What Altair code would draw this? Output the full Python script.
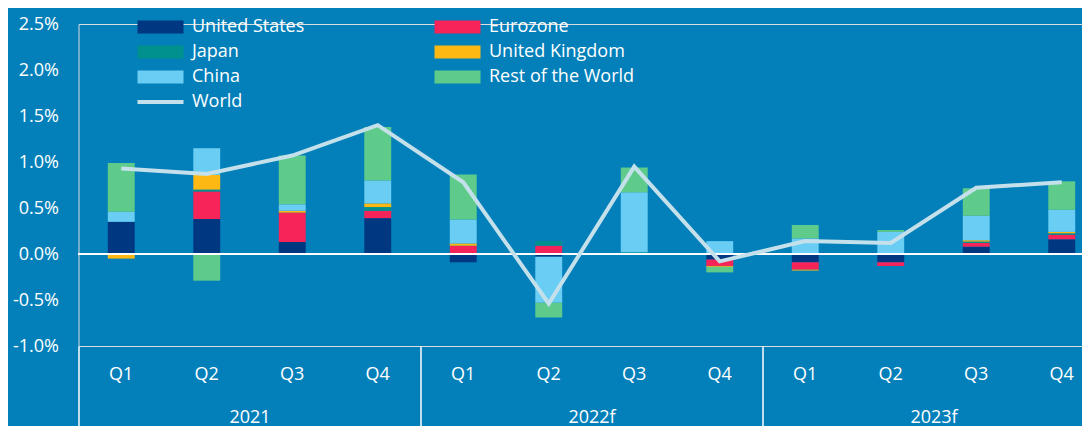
import altair as alt
import pandas as pd

# ---- data ----
periods = ["2021 Q1", "2021 Q2", "2021 Q3", "2021 Q4",
           "2022f Q1", "2022f Q2", "2022f Q3", "2022f Q4",
           "2023f Q1", "2023f Q2", "2023f Q3", "2023f Q4"]
years = ["2021", "2022f", "2023f"]
series = ["United States", "Eurozone", "Japan", "United Kingdom", "China", "Rest of the World"]
# legend is filled column by column: left column first, then right column
legend_order = ["United States", "Japan", "China", "World", "Eurozone", "United Kingdom", "Rest of the World"]
legend_colors = ["#003781", "#00908D", "#6ACDF3", "#C3E0EB", "#F62459", "#FDB813", "#5FCB8A"]

us = [0.35, 0.38, 0.13, 0.39, -0.09, -0.03, 0.0, -0.06, -0.09, -0.09, 0.08, 0.16]
ez = [0.0, 0.30, 0.32, 0.08, 0.09, 0.09, 0.0, -0.07, -0.08, -0.04, 0.04, 0.05]
jp = [0.0, 0.02, -0.01, 0.04, 0.0, 0.05, 0.02, 0.0, 0.0, 0.0, 0.015, 0.015]
uk = [-0.05, 0.16, 0.02, 0.04, 0.025, 0.0, 0.0, -0.01, -0.01, 0.0, 0.015, 0.015]
cn = [0.11, 0.29, 0.07, 0.25, 0.26, -0.50, 0.65, 0.14, 0.17, 0.24, 0.265, 0.24]
rw = [0.53, -0.29, 0.53, 0.58, 0.49, -0.16, 0.27, -0.06, 0.145, 0.02, 0.30, 0.31]
world = [0.93, 0.87, 1.07, 1.40, 0.78, -0.54, 0.95, -0.08, 0.14, 0.12, 0.72, 0.78]

WORLD_COLOR = "#C3E0EB"
y_ticks = [-1.0, -0.5, 0.0, 0.5, 1.0, 1.5, 2.0, 2.5]

BG = "#037FBA"
FONT = "Open Sans"

# ---- tables ----
rows = []
for i, p in enumerate(periods):
    for k, (name, vals) in enumerate(zip(series, [us, ez, jp, uk, cn, rw])):
        if vals[i] != 0:
            rows.append({"period": p, "series": name, "order": k, "value": vals[i]})
bars_df = pd.DataFrame(rows)
world_df = pd.DataFrame({"period": periods,
                         "year": [p.split(" ")[0] for p in periods],
                         "value": world})

y_enc = alt.Y("value:Q",
              scale=alt.Scale(domain=[-1.0, 2.5], nice=False, zero=False),
              axis=alt.Axis(values=y_ticks, title=None, domain=False, ticks=False, grid=False,
                            labelExpr="(datum.value < 0 ? '-' : '') + format(abs(datum.value), '.1f') + '%'",
                            labelPadding=20, labelFontSize=18, labelColor="white", labelFont=FONT))

PLOT_RANGE = [0, 1026]
x_scale = alt.Scale(domain=periods, paddingInner=0, paddingOuter=0, range=PLOT_RANGE)
x_bars = alt.X("period:N", scale=x_scale,
               axis=alt.Axis(orient="bottom", title=None, domain=False, ticks=False, tickSize=0,
                             labelExpr="split(datum.label, ' ')[1]", labelAngle=0,
                             labelPadding=19, labelFontSize=18, labelColor="white", labelFont=FONT))

sym_path = "M-3.54,-1L3.54,-1L3.54,1L-3.54,1Z"
line_path = "M-3.54,-0.3L3.54,-0.3L3.54,0.3L-3.54,0.3Z"

legend = alt.Legend(
    orient="none", legendX=56.5, legendY=-6, columns=2, title=None,
    columnPadding=127, rowPadding=7, padding=0,
    symbolSize=169,
    symbolType=alt.ExprRef(f"datum.value === 'World' ? '{line_path}' : '{sym_path}'"),
    symbolOffset=16.5, labelOffset=22.5,
    symbolStrokeWidth=0, symbolOpacity=1,
    labelFontSize=18, labelColor="white", labelFont=FONT, labelLimit=300)

bars = alt.Chart(bars_df).mark_bar(width={"band": 0.315}).encode(
    x=x_bars,
    y=y_enc,
    color=alt.Color("series:N", scale=alt.Scale(domain=legend_order, range=legend_colors),
                    legend=legend),
    order=alt.Order("order:Q", sort="ascending"),
)

zero = alt.Chart(world_df).mark_rule(color="white", strokeWidth=2).encode(y=alt.datum(0))

line = alt.Chart(world_df).mark_line(color=WORLD_COLOR, strokeWidth=4).encode(
    x=x_bars,
    y=y_enc,
)

year_axis = alt.Chart(world_df).mark_tick(opacity=0).encode(
    x=alt.X("year:N",
            scale=alt.Scale(domain=years, paddingInner=0, paddingOuter=0, range=PLOT_RANGE),
            axis=alt.Axis(orient="bottom", title=None, domain=False, ticks=True, tickBand="extent",
                          tickSize=82, tickColor="white", tickWidth=1.5,
                          labelAngle=0, labelPadding=-20, labelFontSize=18, labelColor="white",
                          labelFont=FONT)),
    y=y_enc,
)

chart = alt.layer(alt.layer(bars, zero, line), year_axis).resolve_scale(x="independent").properties(
    width=1003.5, height=322,
    padding={"left": 70.5, "top": 16, "right": 0, "bottom": 82},
    autosize=alt.AutoSizeParams(type="none"),
    background=BG,
    usermeta={"embedOptions": {"defaultStyle":
        "html,body{background:#037FBA;} .vega-embed{position:relative;display:inline-block;}"}},
).configure_view(strokeWidth=0).configure(font=FONT)

chart.save("out.html", embed_options={"renderer": "svg", "actions": False})
